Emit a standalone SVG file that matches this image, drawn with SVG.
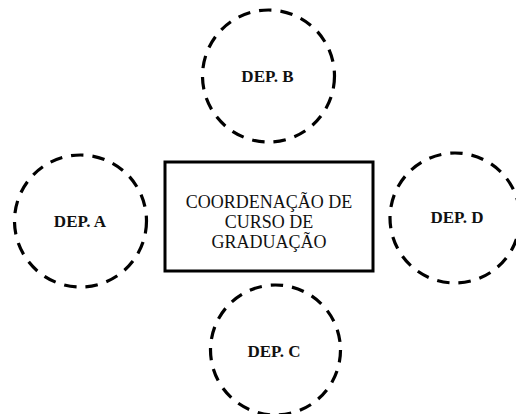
<svg xmlns="http://www.w3.org/2000/svg" width="516" height="414" viewBox="0 0 516 414">
<style>
.dep{fill:none;stroke:#000;stroke-width:3.2;stroke-dasharray:12.5 9}
.lbl{font-family:"Liberation Serif","Times New Roman",serif;font-weight:bold;font-size:17px;text-anchor:middle;fill:#111}
.main{font-family:"Liberation Serif","Times New Roman",serif;font-size:18px;text-anchor:middle;fill:#111}
</style>
<rect width="516" height="414" fill="#fff"/>
<g id="center">
<rect x="165" y="162" width="208" height="109" fill="#fff" stroke="#000" stroke-width="3"/>
<text class="main" x="269" y="208">COORDENAÇÃO DE</text>
<text class="main" x="269" y="228">CURSO DE</text>
<text class="main" x="269" y="248">GRADUAÇÃO</text>
</g>
<g id="depB">
<circle class="dep" cx="268.5" cy="76" r="66"/>
<text class="lbl" x="267.5" y="82">DEP. B</text>
</g>
<g id="depA">
<circle class="dep" cx="80.5" cy="221" r="66"/>
<text class="lbl" x="80" y="227">DEP. A</text>
</g>
<g id="depD">
<circle class="dep" cx="455" cy="218" r="65"/>
<text class="lbl" x="457" y="223">DEP. D</text>
</g>
<g id="depC">
<circle class="dep" cx="275.5" cy="350" r="65"/>
<text class="lbl" x="274" y="357">DEP. C</text>
</g>
<g id="connectors"></g>
</svg>
